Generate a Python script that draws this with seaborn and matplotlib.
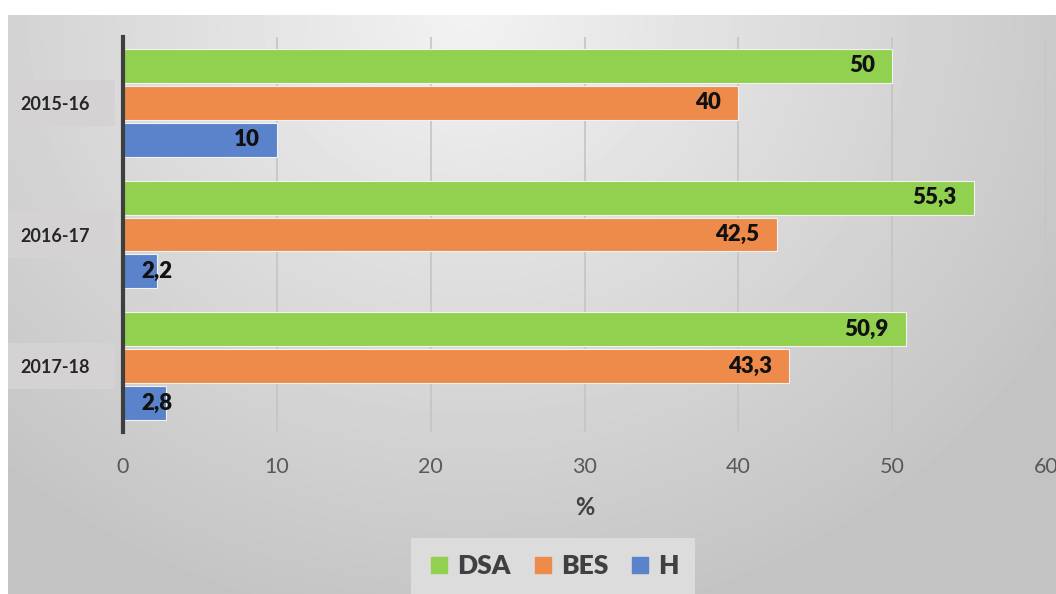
import numpy as np
import pandas as pd
import matplotlib
matplotlib.use("Agg")
import matplotlib.pyplot as plt
import seaborn as sns
from matplotlib.patches import Rectangle
from matplotlib.lines import Line2D
from matplotlib.transforms import blended_transform_factory

years = ["2015-16", "2016-17", "2017-18"]
series = ["DSA", "BES", "H"]
dsa = [50, 55.3, 50.9]
bes = [40, 42.5, 43.3]
h = [10, 2.2, 2.8]
colors = ["#92D050", "#EE8B4B", "#5B83CB"]
xticks = [0, 10, 20, 30, 40, 50, 60]

df = pd.DataFrame({
    "year": years * 3,
    "series": [s for s in series for _ in years],
    "value": dsa + bes + h,
})

sns.set_theme(style="white")
plt.rcParams["font.family"] = ["Lato", "DejaVu Sans"]

fig = plt.figure(figsize=(10.56, 5.94), dpi=100)
fig.patch.set_facecolor("white")

# gradient panel background
bg = fig.add_axes([8 / 1056, 0, 1 - 8 / 1056, (594 - 15) / 594], zorder=-10)
H_, W_ = 579, 1048
yy, xx = np.mgrid[0:H_, 0:W_]
d = np.sqrt(((xx - 460) / 620.0) ** 2 + ((yy - 0) / 560.0) ** 2)
val = np.clip(242 - 42 * d, 195, 242) / 255.0
bg.imshow(val, cmap="gray", vmin=0, vmax=1, aspect="auto", interpolation="bilinear")
bg.set_axis_off()

ax = fig.add_axes([123 / 1056, 1 - 432 / 594, (1046 - 123) / 1056, (432 - 37) / 594])
ax.set_facecolor("none")

sns.barplot(data=df, y="year", x="value", hue="series", hue_order=series,
            order=years, palette=colors, orient="h", width=0.84, gap=0.08,
            saturation=1, edgecolor="#F2F2F2", linewidth=0.8, legend=False,
            ax=ax, zorder=3)

ax.set_xlim(0, 60)
ax.set_ylim(2.5, -0.5)
ax.set_xticks(xticks)
ax.set_xticklabels([str(t) for t in xticks])
ax.grid(axis="x", color="#C4C4C4", linewidth=1.2, zorder=0)
ax.set_axisbelow(True)
for s in ["top", "right", "bottom"]:
    ax.spines[s].set_visible(False)
ax.spines["left"].set_color("#3F3F3F")
ax.spines["left"].set_linewidth(3)
ax.spines["left"].set_zorder(5)
ax.tick_params(axis="x", length=0, pad=18, labelsize=15.5, labelcolor="#595959")
ax.tick_params(axis="y", length=0, pad=24, labelsize=13, labelcolor="#262626")
for lab in ax.get_yticklabels():
    lab.set_fontweight("bold")
ax.set_ylabel("")
ax.set_xlabel("%", fontsize=17, fontweight="bold", color="#404040", labelpad=14)

# category label boxes
tr = blended_transform_factory(fig.transFigure, ax.transData)
for i in range(len(years)):
    ax.add_patch(Rectangle((8 / 1056, i - 0.175), (115 - 8) / 1056, 0.35,
                           transform=tr, facecolor="#D4D2D2", edgecolor="none",
                           clip_on=False, zorder=-1))

# value labels
def fmt(v):
    return f"{v:g}".replace(".", ",")

px_per_unit = (1046 - 123) / 60
for cont in ax.containers:
    for bar in cont:
        v = bar.get_width()
        yc = bar.get_y() + bar.get_height() / 2
        if v * px_per_unit < 70:
            ax.annotate(fmt(v), xy=(0, yc), xytext=(13, 0), textcoords="offset points",
                        ha="left", va="center", fontsize=16, fontweight="heavy",
                        color="#111111", zorder=6, annotation_clip=False)
        else:
            ax.annotate(fmt(v), xy=(v, yc), xytext=(-12.5, 0), textcoords="offset points",
                        ha="right", va="center", fontsize=16, fontweight="heavy",
                        color="#111111", zorder=6)

handles = [Line2D([0], [0], marker="s", linestyle="none", markersize=11,
                  markerfacecolor=c, markeredgecolor=c) for c in colors]
leg = fig.legend(handles, series, loc="center", bbox_to_anchor=(553 / 1056, 1 - 566 / 594),
                 ncol=3, frameon=True, fontsize=19, handletextpad=0.25,
                 columnspacing=0.75, borderpad=0.6, handlelength=0.9,
                 borderaxespad=0)
frame = leg.get_frame()
frame.set_facecolor("#DCDCDC")
frame.set_edgecolor("none")
frame.set_alpha(1)
frame.set_boxstyle("square", pad=0)
for t in leg.get_texts():
    t.set_fontweight("heavy")
    t.set_color("#404040")

fig.savefig("out.png", dpi=100, facecolor="white")
